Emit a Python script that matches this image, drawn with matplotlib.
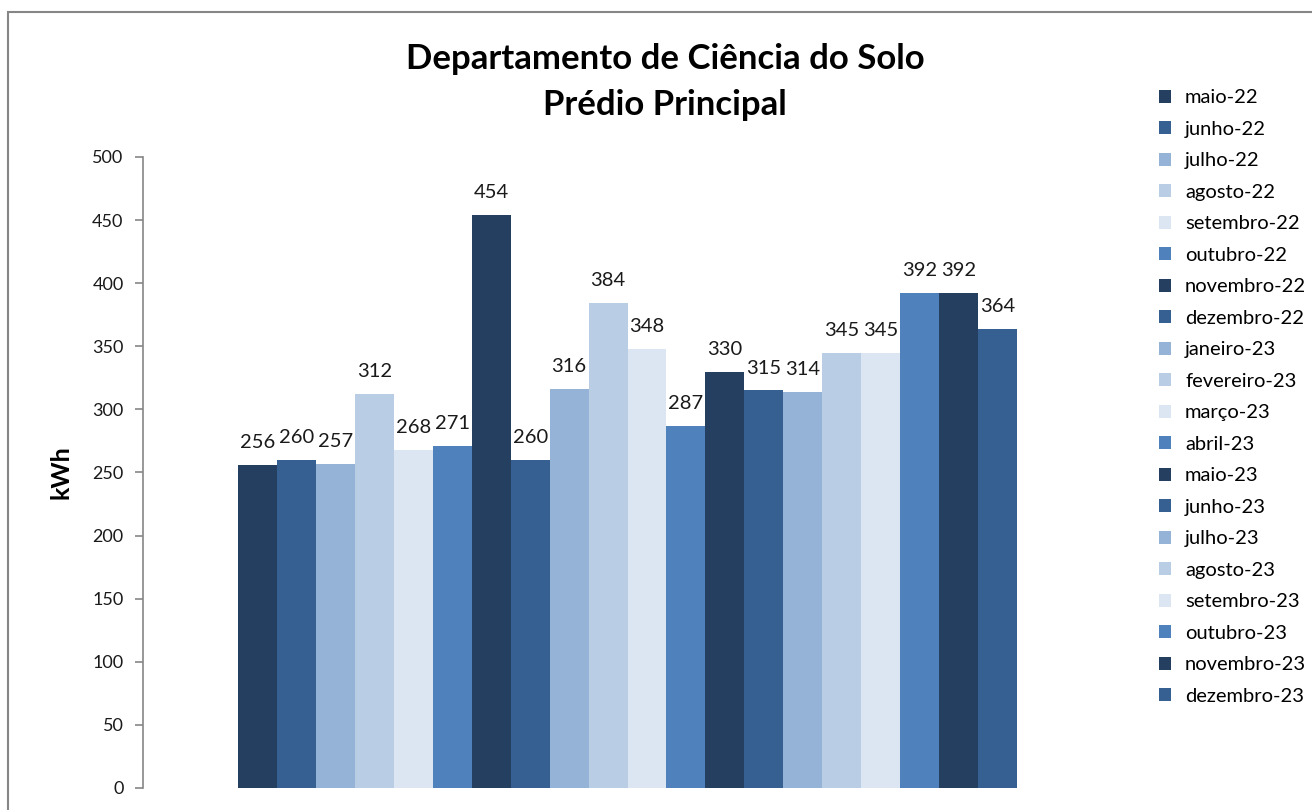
import matplotlib.pyplot as plt
from matplotlib.patches import Rectangle

plt.rcParams['font.family'] = ['Lato', 'DejaVu Sans']

meses = ['maio-22', 'junho-22', 'julho-22', 'agosto-22', 'setembro-22', 'outubro-22',
         'novembro-22', 'dezembro-22', 'janeiro-23', 'fevereiro-23', 'março-23', 'abril-23',
         'maio-23', 'junho-23', 'julho-23', 'agosto-23', 'setembro-23', 'outubro-23',
         'novembro-23', 'dezembro-23']
consumo = [256, 260, 257, 312, 268, 271, 454, 260, 316, 384, 348, 287,
           330, 315, 314, 345, 345, 392, 392, 364]
paleta = ['#243F60', '#366092', '#95B3D7', '#B9CDE5', '#DCE6F2', '#4F81BD']

fig = plt.figure(figsize=(13.12, 8.10), dpi=100)
ax = fig.add_axes([0.109, 0.0272, 0.7386, 0.779])

margem = 2.44
for i, (mes, val) in enumerate(zip(meses, consumo)):
    ax.bar(i, val, width=1.0, color=paleta[i % 6], label=mes)
    ax.annotate(str(val), (i, val), xytext=(0, 10), textcoords='offset points',
                ha='center', va='bottom', fontsize=14.5, color='#1a1a1a')

ax.set_xlim(-0.5 - margem, 19.5 + margem)
ax.set_ylim(0, 500)
ax.set_yticks(range(0, 501, 50))
ax.set_xticks([])
for s in ['top', 'right', 'bottom']:
    ax.spines[s].set_visible(False)
ax.spines['left'].set_color('#868686')
ax.spines['left'].set_linewidth(1.2)
ax.tick_params(axis='y', direction='out', length=6, width=1.2, color='#868686',
               labelsize=13, pad=8, labelcolor='#1a1a1a')
ax.set_ylabel('kWh', fontsize=18, fontweight='bold', labelpad=14)

fig.text(0.507, 0.899, 'Departamento de Ciência do Solo\nPrédio Principal',
         ha='center', va='center', fontsize=25, fontweight='bold', linespacing=1.55)

ax.legend(loc='upper left', bbox_to_anchor=(1.04, 1.12), frameon=False,
          fontsize=14.5, handlelength=0.6, handleheight=0.6, handletextpad=0.7,
          labelspacing=0.72, borderaxespad=0)

fig.patches.append(Rectangle((8 / 1312, -0.1), 1.2, 1 - 12 / 810 + 0.1,
                             transform=fig.transFigure, fill=False,
                             edgecolor='#868686', linewidth=1.5))

fig.savefig('out.png', dpi=100)
